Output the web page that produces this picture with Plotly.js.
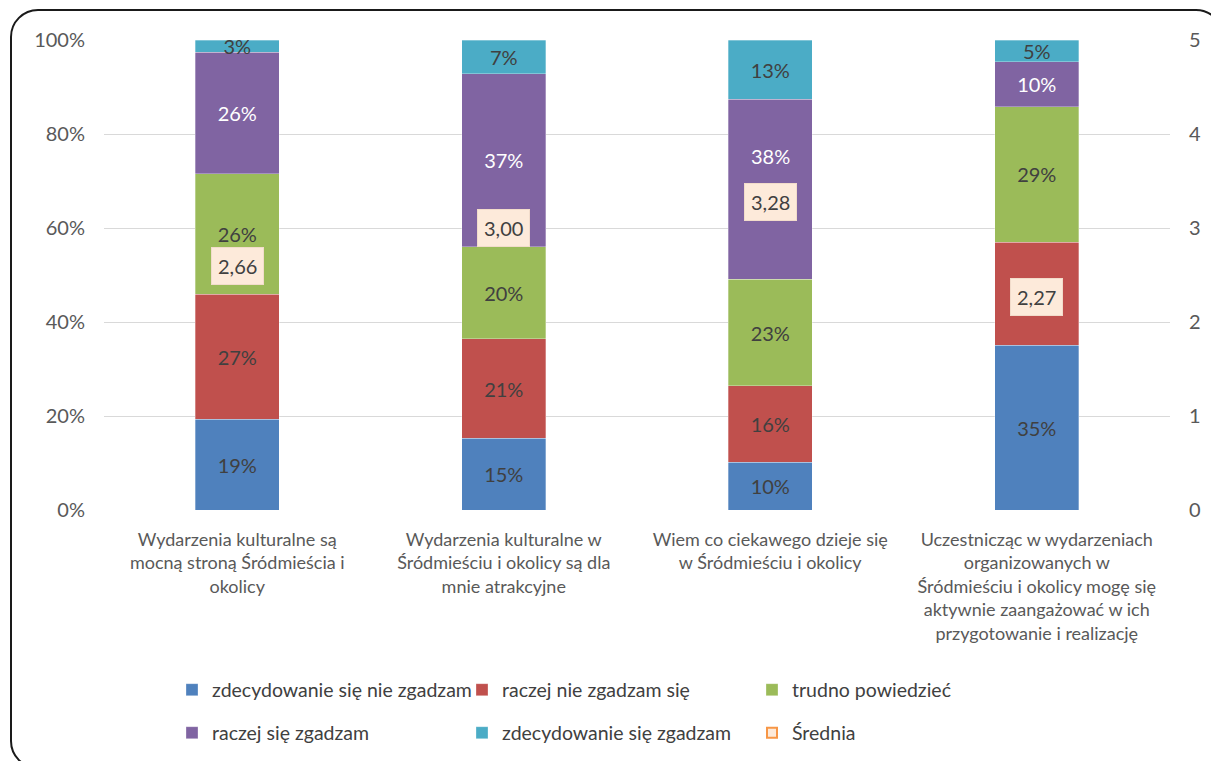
<!DOCTYPE html>
<html>
<head>
<meta charset="utf-8">
<script src="https://cdn.plot.ly/plotly-3.0.1.min.js"></script>
<style>
  html, body { margin: 0; padding: 0; background: #fff; }
  #wrap { position: relative; width: 1211px; height: 761px; overflow: hidden; }
  #chart { position: absolute; left: 0; top: 0; width: 1211px; height: 761px; }
  #frame { position: absolute; left: 10px; top: 9px; width: 1214px; height: 760px;
           border: 2px solid #1a1a1a; border-radius: 28px; box-sizing: border-box; pointer-events: none; }
</style>
</head>
<body>
<div id="wrap">
  <div id="chart"></div>
  <div id="frame"></div>
</div>
<script>
const categories = [
  "Wydarzenia kulturalne są<br>mocną stroną Śródmieścia i<br>okolicy",
  "Wydarzenia kulturalne w<br>Śródmieściu i okolicy są dla<br>mnie atrakcyjne",
  "Wiem co ciekawego dzieje się<br>w Śródmieściu i okolicy",
  "Uczestnicząc w wydarzeniach<br>organizowanych w<br>Śródmieściu i okolicy mogę się<br>aktywnie zaangażować w ich<br>przygotowanie i realizację"
];
const seriesNames = [
  "zdecydowanie się nie zgadzam",
  "raczej nie zgadzam się",
  "trudno powiedzieć",
  "raczej się zgadzam",
  "zdecydowanie się zgadzam"
];
const zdecydowanieNie = [19.3, 15.3, 10.2, 35.1];
const raczejNie       = [26.6, 21.1, 16.2, 21.9];
const trudno          = [25.6, 19.6, 22.7, 28.8];
const raczejTak       = [25.9, 36.8, 38.3, 9.6];
const zdecydowanieTak = [2.6, 7.2, 12.6, 4.6];
const srednia = [2.66, 3.00, 3.28, 2.27];
const sredniaName = "Średnia";

const seriesValues = [zdecydowanieNie, raczejNie, trudno, raczejTak, zdecydowanieTak];
const colors = ["#4F81BD", "#C0504D", "#9BBB59", "#8064A2", "#4BACC6"];
const textColors = ["#404040", "#404040", "#404040", "#FFFFFF", "#404040"];
const FONT = "Lato, 'Open Sans', sans-serif";

const W = 1211, H = 761;
const M = { l: 104, r: 41, t: 40, b: 251 };
const pxPerPct = (H - M.t - M.b) / 100;

// Segment labels; resolve collisions with the average boxes (as in the original chart)
const labelText = seriesValues.map(vals => vals.map(v => Math.round(v) + "%"));
const movedLabels = [];
const boxShift = srednia.map(() => 0);
categories.forEach((cat, j) => {
  const avgPct = srednia[j] / 5 * 100;
  let cum = 0;
  seriesValues.forEach((vals, i) => {
    const v = vals[j];
    const center = cum + v / 2, top = cum + v;
    const gapPx = (center - avgPct) * pxPerPct;
    if (Math.abs(gapPx) < 14) {
      const newCenter = avgPct + 46 / pxPerPct;
      if (newCenter + 11 / pxPerPct <= top) {
        movedLabels.push({ x: cat, y: newCenter, text: labelText[i][j], color: textColors[i] });
      }
      labelText[i][j] = "";
    } else if (gapPx >= 14 && gapPx < 32) {
      boxShift[j] = -(32 - gapPx);
    } else if (gapPx <= -14 && gapPx > -32) {
      boxShift[j] = 32 + gapPx;
    }
    cum = top;
  });
});

const traces = seriesValues.map((vals, i) => ({
  type: "bar",
  name: seriesNames[i],
  x: categories,
  y: vals,
  marker: { color: colors[i], line: { color: "rgba(255,255,255,0.6)", width: 0.5 } },
  text: labelText[i],
  texttemplate: "%{text}",
  textposition: "inside",
  insidetextanchor: "middle",
  constraintext: "none",
  textangle: 0,
  textfont: { family: FONT, size: 20, color: textColors[i] },
  hoverinfo: "skip",
  legend: i < 3 ? "legend" : "legend2"
}));

traces.push({
  type: "scatter",
  mode: "markers",
  name: sredniaName,
  x: categories,
  y: srednia,
  yaxis: "y2",
  marker: { symbol: "square", size: 10, color: "#FDEADA", line: { color: "#F79646", width: 2 } },
  hoverinfo: "skip",
  legend: "legend2"
});

const annotations = srednia.map((v, i) => ({
  x: categories[i],
  y: v,
  xref: "x",
  yref: "y2",
  yshift: boxShift[i],
  text: v.toFixed(2).replace(".", ","),
  showarrow: false,
  font: { family: FONT, size: 20, color: "#404040" },
  bgcolor: "#FDEADA",
  bordercolor: "#F2DCCB",
  borderwidth: 1,
  borderpad: 6
})).concat(movedLabels.map(m => ({
  x: m.x,
  y: m.y,
  xref: "x",
  yref: "y",
  text: m.text,
  showarrow: false,
  font: { family: FONT, size: 20, color: m.color }
})));

const legendCommon = {
  orientation: "h",
  xref: "container",
  yref: "container",
  xanchor: "left",
  yanchor: "middle",
  x: 172 / W,
  font: { family: FONT, size: 19.5, color: "#404040" },
  entrywidth: 245,
  entrywidthmode: "pixels",
  traceorder: "normal",
  bgcolor: "rgba(0,0,0,0)"
};

const layout = {
  width: W,
  height: H,
  margin: M,
  paper_bgcolor: "#ffffff",
  plot_bgcolor: "#ffffff",
  barmode: "stack",
  bargap: 0.685,
  font: { family: FONT, color: "#595959" },
  xaxis: {
    type: "category",
    tickfont: { family: FONT, size: 18, color: "#595959" },
    ticks: "",
    showline: false,
    ticklabelstandoff: 17,
    fixedrange: true
  },
  yaxis: {
    range: [0, 100],
    dtick: 20,
    ticksuffix: "%",
    tickfont: { family: FONT, size: 20, color: "#595959" },
    gridcolor: "#D9D9D9",
    gridwidth: 1,
    zeroline: false,
    showline: false,
    ticks: "",
    ticklabelstandoff: 18
  },
  yaxis2: {
    overlaying: "y",
    side: "right",
    range: [0, 5],
    dtick: 1,
    showgrid: false,
    zeroline: false,
    showline: false,
    ticks: "",
    tickfont: { family: FONT, size: 20, color: "#595959" },
    ticklabelstandoff: 18
  },
  showlegend: true,
  legend: Object.assign({}, legendCommon, { y: 1 - 690 / H }),
  legend2: Object.assign({}, legendCommon, { y: 1 - 733 / H }),
  annotations: annotations
};

Plotly.newPlot("chart", traces, layout, { displayModeBar: false, staticPlot: true });
</script>
</body>
</html>
